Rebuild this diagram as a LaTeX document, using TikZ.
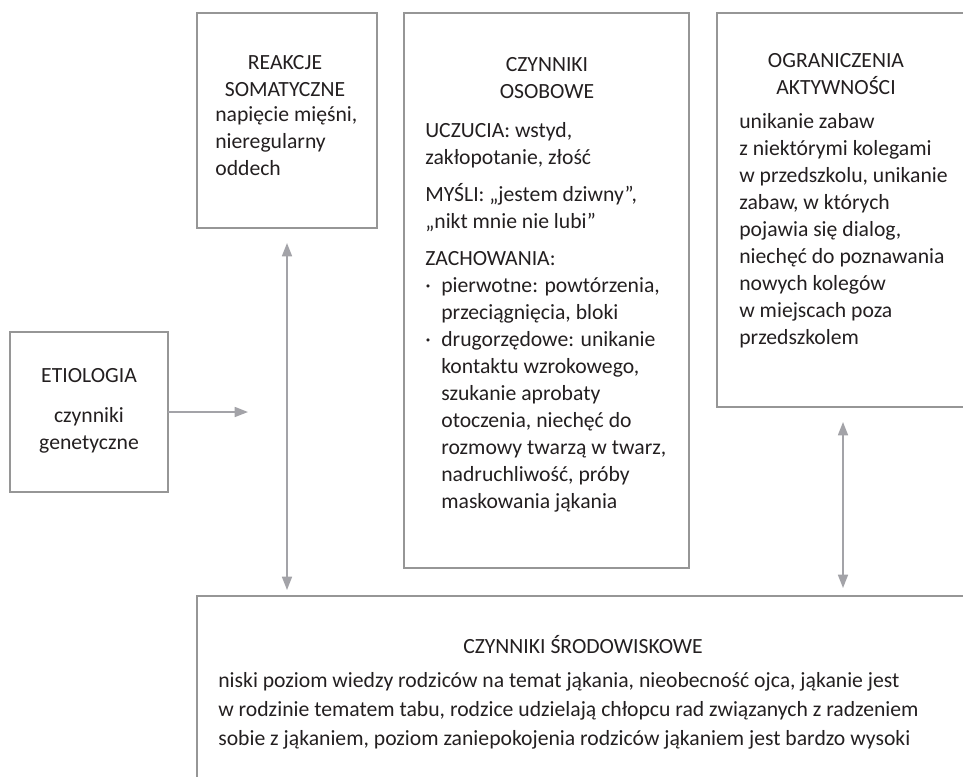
\documentclass[tikz,border=0pt]{standalone}
\usepackage{fontspec}
\setmainfont{Carlito}
\usepackage{xcolor}
\usepackage{tikz}
\usetikzlibrary{arrows.meta, positioning}
\definecolor{boxline}{RGB}{150,150,150}
\definecolor{connline}{RGB}{163,163,168}
\definecolor{ink}{RGB}{35,31,32}

\begin{document}
\begin{tikzpicture}[
    x=0.6pt, y=-0.6pt,
    box/.style={draw=boxline,line width=0.8pt,inner sep=0pt,outer sep=0pt,
      anchor=north west},
    head/.style={align=center,anchor=base,inner sep=0pt,text=ink,
      font=\fontsize{13}{16.2}\selectfont},
    body/.style={align=left,anchor=base west,inner sep=0pt,text=ink,
      font=\fontsize{13}{16.2}\selectfont},
    conn/.style={draw=connline,line width=1pt,
      {Triangle[length=8pt,width=6pt]}-{Triangle[length=8pt,width=6pt]}},
    oneway/.style={draw=connline,line width=1pt,-{Triangle[length=8pt,width=6pt]}}
  ]
  \useasboundingbox (0,0) rectangle (963,776);
  \clip (0,0) rectangle (963,776);

  % Etiologia (text nodes sit on the baseline of their last line)
  \node[box,minimum width=94.8pt,minimum height=96pt] (etio) at (10,332) {};
  \node[head] (etiohead) at (89,382) {ETIOLOGIA};
  \node[head] (etiobody) at (89,449) {czynniki\\genetyczne};

  % Reakcje somatyczne
  \node[box,minimum width=108pt,minimum height=129pt] (reak) at (197,13) {};
  \node[head] (reakhead) at (285,96) {REAKCJE\\SOMATYCZNE};
  \node[body] (reakbody) at (215,175) {napięcie mięśni,\\nieregularny\\oddech};

  % Czynniki osobowe
  \node[box,minimum width=171pt,minimum height=333pt] (osob) at (404,13) {};
  \node[head] (osobhead) at (547,98) {CZYNNIKI\\OSOBOWE};
  \node[body] (osobbody) at (425,508) {UCZUCIA: wstyd,\\zakłopotanie, złość\\[6pt]
    MYŚLI: „jestem dziwny”,\\„nikt mnie nie lubi”\\[6pt]
    ZACHOWANIA:\\
    \makebox[9.6pt][l]{·}pierwotne: powtórzenia,\\
    \hspace*{9.6pt}przeciągnięcia, bloki\\
    \makebox[9.6pt][l]{·}drugorzędowe: unikanie\\
    \hspace*{9.6pt}kontaktu wzrokowego,\\
    \hspace*{9.6pt}szukanie aprobaty\\
    \hspace*{9.6pt}otoczenia, niechęć do\\
    \hspace*{9.6pt}rozmowy twarzą w twarz,\\
    \hspace*{9.6pt}nadruchliwość, próby\\
    \hspace*{9.6pt}maskowania jąkania};

  % Ograniczenia aktywnosci
  \node[box,minimum width=151.8pt,minimum height=236.4pt] (ogr) at (717,13) {};
  \node[head] (ogrhead) at (836,94) {OGRANICZENIA\\AKTYWNOŚCI};
  \node[body] (ogrbody) at (739,344) {unikanie zabaw\\z niektórymi kolegami\\
    w przedszkolu, unikanie\\zabaw, w których\\pojawia się dialog,\\
    niechęć do poznawania\\nowych kolegów\\w miejscach poza\\przedszkolem};

  % Czynniki srodowiskowe
  \node[box,minimum width=466.8pt,minimum height=116.4pt] (srod) at (197,596) {};
  \node[head] (srodhead) at (583,653) {CZYNNIKI ŚRODOWISKOWE};
  \node[body,font=\fontsize{13}{17.4}\selectfont] (srodbody) at (218,745)
    {niski poziom wiedzy rodziców na temat jąkania, nieobecność ojca, jąkanie jest\\
     w rodzinie tematem tabu, rodzice udzielają chłopcu rad związanych z radzeniem\\
     sobie z jąkaniem, poziom zaniepokojenia rodziców jąkaniem jest bardzo wysoki};

  % Connectors
  \coordinate (etioend) at (248,412);
  \coordinate (ogrfoot) at (843,407);
  \draw[oneway] (etio.east) -- (etioend);
  \draw[conn,shorten <=9pt,shorten >=3.6pt] (reak.south) -- (reak.south |- srod.north);
  \draw[conn,shorten <=9pt,shorten >=4.8pt] (ogrfoot) -- (ogrfoot |- srod.north);

\end{tikzpicture}
\end{document}
